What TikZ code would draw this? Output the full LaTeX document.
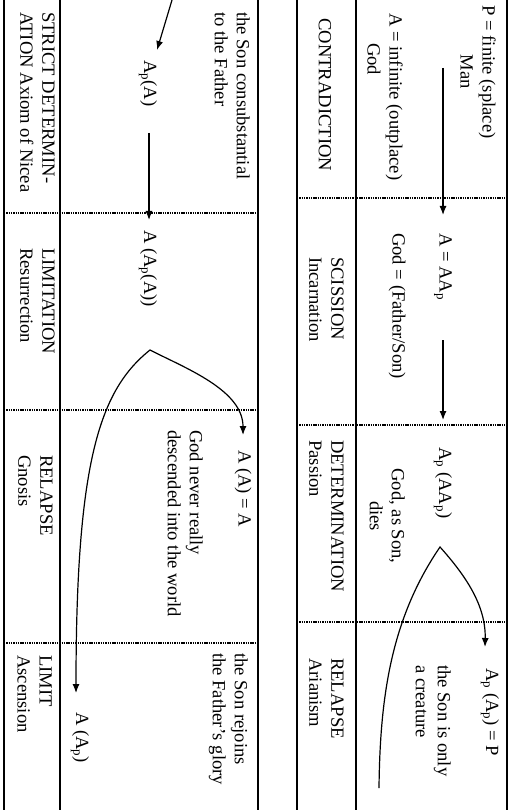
\documentclass[tikz,border=0pt]{standalone}
\usepackage{fontspec}
\setmainfont{Liberation Serif}
\usetikzlibrary{arrows.meta}
\begin{document}
\begin{tikzpicture}[x=1pt,y=-1pt,
  txt/.style={rotate=-90,inner sep=0pt,font=\fontsize{18.6}{22}\selectfont,align=left},
  rule/.style={line width=1.3pt},
  dotrule/.style={line width=1.5pt,dash pattern=on 1.4pt off 0.9pt},
  arr/.style={line width=1.2pt,-{Latex[length=9pt,width=7pt]}},
  curve/.style={line width=1.2pt}]
\useasboundingbox (0,0) rectangle (509,810);
% table frames
\foreach \x in {4,60,258,297,356,507} \draw[rule] (\x,0) -- (\x,810);
\foreach \y in {213,410,643} \draw[dotrule] (4,\y) -- (258,\y);
\foreach \y in {198,425,622} \draw[dotrule] (297,\y) -- (507,\y);
% right table texts
\node[txt,anchor=north,align=center] (nP) at (496,72) {P = finite (splace)\\Man};
\node[txt,anchor=north west] (nA) at (403,13) {A = infinite (outplace)\\\hspace*{30pt}God};
\node[txt,anchor=west] (nContra) at (325,18) {CONTRADICTION};
\node[txt,anchor=west] (nAAp) at (443,233) {A = AA\textsubscript{p}};
\node[txt,anchor=west] (nGodFS) at (397,233) {God = (Father/Son)};
\node[txt,anchor=north west] (nScis) at (344,257) {SCISSION\\Incarnation};
\node[txt,anchor=west] (nApAAp) at (443,447) {A\textsubscript{p} (AA\textsubscript{p})};
\node[txt,anchor=north,align=center] (nGodSon) at (405,516) {God, as Son,\\dies};
\node[txt,anchor=north west] (nDet) at (344,440) {DETERMINATION\\Passion};
\node[txt,anchor=west] (nApApP) at (490,668) {A\textsubscript{p} (A\textsubscript{p}) = P};
\node[txt,anchor=north west] (nCreature) at (451,665) {the Son is only\\a creature};
\node[txt,anchor=north west] (nRelA) at (344,658) {RELAPSE\\Arianism};
% left table texts
\node[txt,anchor=north west] (nConsub) at (250,12) {the Son consubstantial\\to the Father};
\node[txt,anchor=west] (nApA) at (148,60) {A\textsubscript{p}(A)};
\node[txt,anchor=north west] (nStrict) at (55,12) {STRICT DETERMIN-\\ATION Axiom of Nicea};
\node[txt,anchor=west] (nAApA) at (148,230) {A (A\textsubscript{p}(A))};
\node[txt,anchor=north west] (nLimit) at (55,248) {LIMITATION\\Resurrection};
\node[txt,anchor=west] (nAAA) at (243,450) {A (A) = A};
\node[txt,anchor=north west] (nNever) at (203,430) {God never really\\descended into the world};
\node[txt,anchor=north west] (nRelG) at (53,455) {RELAPSE\\Gnosis};
\node[txt,anchor=north west] (nRejoin) at (248,653) {the Son rejoins\\the Father’s glory};
\node[txt,anchor=west] (nAAp2) at (80,712) {A (A\textsubscript{p})};
\node[txt,anchor=north west] (nLim2) at (52,655) {LIMIT\\Ascension};
% connector coordinates
\coordinate (s1) at (443,68);
\coordinate (s2) at (443,340);
\coordinate (s3) at (149,133);
\coordinate (sTop) at (172,0);
\coordinate (eTop) at (157,50);
\coordinate (rBot) at (379,788);
\coordinate (rApex) at (440,547);
\coordinate (rTip) at (485,647);
\coordinate (lApex) at (150,350);
\coordinate (lTipR) at (243,435);
\coordinate (lTipL) at (76,693);
% straight arrows
\draw[arr,shorten >=18pt] (s1) -- (s1 |- nAAp.west);
\draw[arr,shorten >=27pt] (s2) -- (s2 |- nApAAp.west);
\draw[arr,shorten >=10pt] (s3) -- (s3 |- nAApA.west);
\draw[arr] (sTop) -- (eTop);
% curves
\draw[curve,-{Latex[length=9pt,width=7pt]}] (rBot) .. controls (380,700) and (390,620) .. (rApex)
  .. controls (465,575) and (486,605) .. (rTip);
\draw[curve,{Latex[length=9pt,width=7pt]}-{Latex[length=9pt,width=7pt]}] (lTipR) .. controls (243,390) and (185,368) .. (lApex)
  .. controls (100,390) and (76,460) .. (lTipL);
\end{tikzpicture}
\end{document}
